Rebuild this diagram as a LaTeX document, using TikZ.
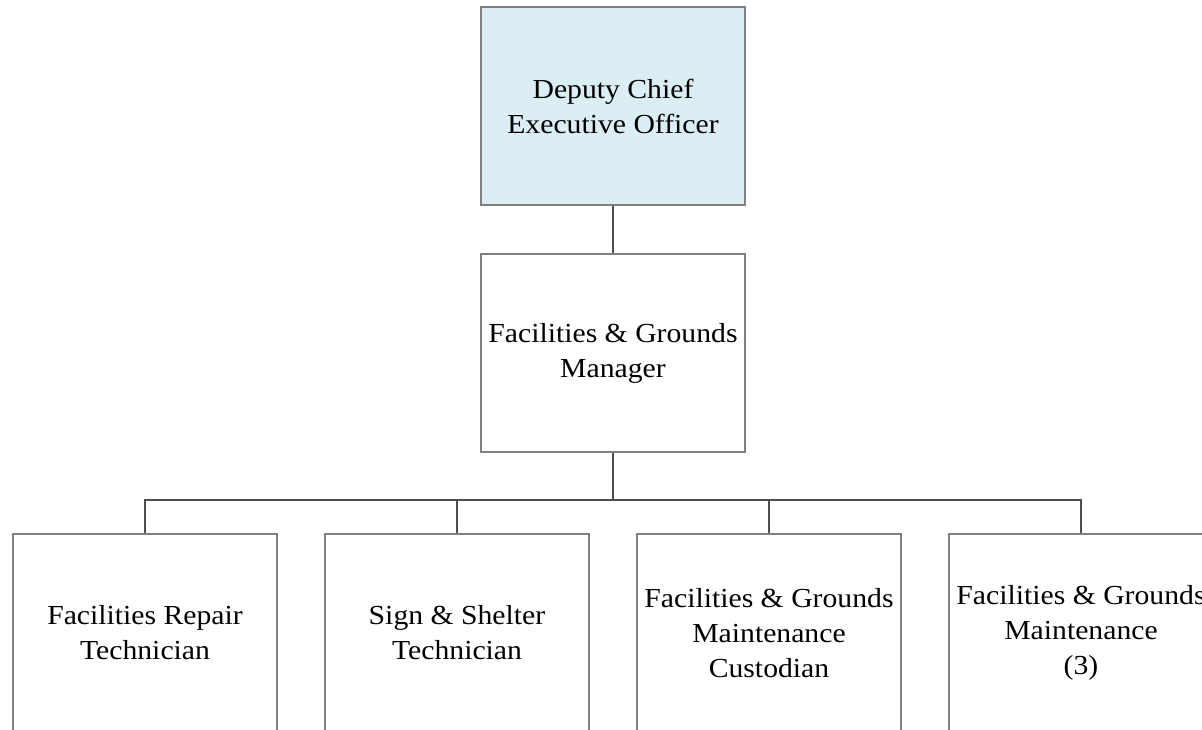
\documentclass[tikz,border=0pt]{standalone}
\usepackage{fontspec}
\setmainfont[FakeStretch=1.08]{Liberation Serif}
\definecolor{boxline}{HTML}{808080}
\definecolor{linkline}{HTML}{4D4D4D}
\definecolor{ceofill}{HTML}{DBEEF3}
\begin{document}
\begin{tikzpicture}[x=1pt,y=-1pt,
  post/.style={draw=boxline,line width=1.4pt,rectangle,minimum width=264pt,minimum height=198pt,
    align=center,inner sep=0pt,font=\fontsize{27.5}{35}\selectfont},
  link/.style={draw=linkline,line width=1.4pt}]
\useasboundingbox (0,0) rectangle (1202,730);
\clip (0,0) rectangle (1202,730);
\fill[white] (0,0) rectangle (1202,730);
% top two levels
\node[post,fill=ceofill] (ceo) at (613,106) {Deputy Chief\\Executive Officer};
\node[post] (mgr) at (613,353) {Facilities \& Grounds\\Manager};
% staff row
\node[post] (rep) at (145,633) {Facilities Repair\\Technician};
\node[post] (sign) at (457,633) {Sign \& Shelter\\Technician};
\node[post] (cust) at (769,633) {Facilities \& Grounds\\Maintenance\\Custodian};
\node[post] (maint) at (1081,633) {Facilities \& Grounds\\Maintenance\\(3)};
% reporting lines
\coordinate (bus) at (613,500);
\draw[link] (ceo.south) -- (mgr.north);
\draw[link] (mgr.south) -- (bus);
\draw[link] (bus) -| (rep.north);
\draw[link] (bus) -| (sign.north);
\draw[link] (bus) -| (cust.north);
\draw[link] (bus) -| (maint.north);
\end{tikzpicture}
\end{document}
